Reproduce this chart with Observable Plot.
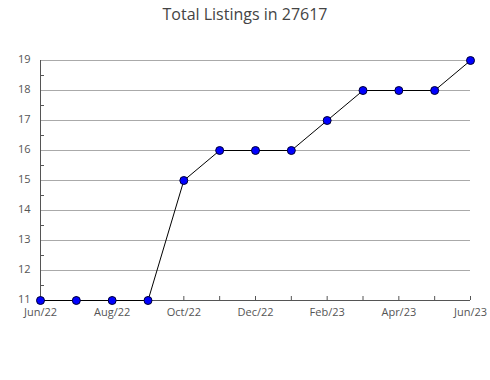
<!DOCTYPE html>
<html>
<head>
<meta charset="utf-8">
<script src="https://cdn.jsdelivr.net/npm/d3@7"></script>
<script src="https://cdn.jsdelivr.net/npm/@observablehq/plot@0.6"></script>
<style>
  html, body { margin: 0; padding: 0; background: #fff; }
  #wrap { width: 490px; height: 380px; position: relative; font-family: "Open Sans", sans-serif; }
  #title { height: 30px; box-sizing: border-box; padding-top: 4px; text-align: center; font-size: 16px; color: #444; line-height: 20px; }
  svg { display: block; }
</style>
</head>
<body>
<div id="wrap">
  <div id="title">Total Listings in 27617</div>
  <div id="chart"></div>
</div>
<script>
const months = ["Jun/22","Jul/22","Aug/22","Sep/22","Oct/22","Nov/22","Dec/22","Jan/23","Feb/23","Mar/23","Apr/23","May/23","Jun/23"];
const listings = [11, 11, 11, 11, 15, 16, 16, 16, 17, 18, 18, 18, 19];
const yTicks = [11, 12, 13, 14, 15, 16, 17, 18, 19];
const yHalfTicks = [11.5, 12.5, 13.5, 14.5, 15.5, 16.5, 17.5, 18.5];

const monthIdx = months.map((m, i) => i);
const data = months.map((m, i) => ({idx: i, month: m, value: listings[i]}));
const last = months.length - 1;

const chart = Plot.plot({
  width: 490,
  height: 350,
  marginLeft: 40,
  marginRight: 20,
  marginTop: 30,
  marginBottom: 80,
  style: {fontFamily: "Open Sans, sans-serif", fontSize: "11px", color: "#555", background: "#fff"},
  x: {type: "linear", domain: [0, last], label: null},
  y: {domain: [11, 19], label: null},
  marks: [
    Plot.gridY(yTicks, {stroke: "#aaa", strokeOpacity: 1}),
    Plot.ruleY(yHalfTicks, {x1: 0, x2: 0, insetRight: -4, stroke: "#555"}),
    Plot.ruleX(monthIdx, {x: d => d, y1: 11, y2: 11, insetTop: -4, stroke: "#555"}),
    Plot.ruleX([0], {y1: 11, y2: 19, stroke: "#555"}),
    Plot.ruleY([11], {x1: 0, x2: last, stroke: "#555"}),
    Plot.axisY(yTicks, {tickSize: 0, tickPadding: 10, fill: "#555", fontSize: 11, label: null, dy: -1}),
    Plot.axisX(monthIdx.filter(i => i % 2 === 0), {tickSize: 0, tickPadding: 8, fill: "#555", fontSize: 11, label: null,
      tickFormat: (i) => months[i]}),
    Plot.line(data, {x: "idx", y: "value", stroke: "#000", strokeWidth: 1}),
    Plot.dot(data, {x: "idx", y: "value", r: 4, fill: "#0000ff", stroke: "#000033", strokeWidth: 1})
  ]
});
document.getElementById("chart").appendChild(chart);
</script>
</body>
</html>
